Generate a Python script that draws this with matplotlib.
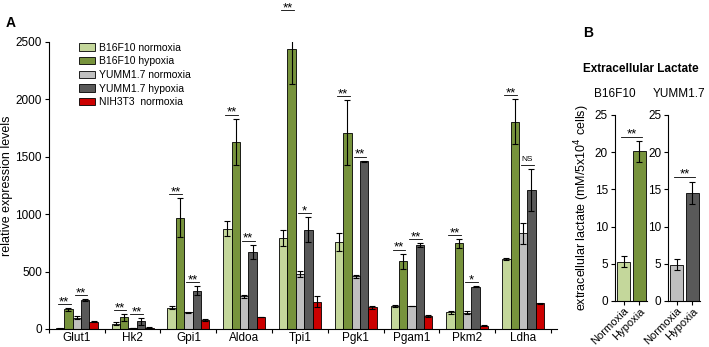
import numpy as np
import matplotlib.pyplot as plt

genes = ["Glut1", "Hk2", "Gpi1", "Aldoa", "Tpi1", "Pgk1", "Pgam1", "Pkm2", "Ldha"]
series = ["B16F10 normoxia", "B16F10 hypoxia", "YUMM1.7 normoxia", "YUMM1.7 hypoxia", "NIH3T3  normoxia"]
colors = ["#c4d79b", "#77933c", "#bfbfbf", "#595959", "#cc0000"]

b16_norm = [5, 45, 185, 875, 790, 760, 200, 145, 610]
b16_norm_err = [3, 12, 15, 62, 70, 78, 8, 15, 8]
b16_hyp = [170, 100, 970, 1630, 2435, 1710, 590, 745, 1805]
b16_hyp_err = [10, 30, 170, 203, 305, 284, 67, 40, 195]
yumm_norm = [98, 8, 145, 285, 476, 459, 200, 142, 834]
yumm_norm_err = [12, 3, 4, 15, 25, 15, 3, 15, 92]
yumm_hyp = [250, 65, 334, 670, 865, 1460, 730, 369, 1210]
yumm_hyp_err = [10, 30, 40, 64, 108, 5, 20, 5, 180]
nih = [62, 12, 75, 105, 238, 189, 113, 29, 224]
nih_err = [3, 3, 8, 3, 50, 15, 10, 3, 3]

sig_b16 = ["**"] * 9
sig_yumm = ["**", "**", "**", "**", "*", "**", "**", "*", "NS"]

# panel B
lac_labels = ["Normoxia", "Hypoxia"]
lac_b16 = [5.3, 20.1]
lac_b16_err = [0.7, 1.4]
lac_yumm = [4.9, 14.5]
lac_yumm_err = [0.8, 1.5]

plt.rcParams['font.family'] = ['Liberation Sans', 'DejaVu Sans']

fig = plt.figure(figsize=(7.09, 3.47), dpi=100)


def star(a, xc, y, txt):
    # asterisks sit just above the line, "NS" a little higher and smaller
    if txt == "NS":
        a.annotate(txt, (xc, y), xytext=(0, 1.5), textcoords="offset points",
                   ha="center", va="bottom", fontsize=6, annotation_clip=False)
    else:
        a.annotate(txt, (xc, y), xytext=(0, -0.8), textcoords="offset points",
                   ha="center", va="baseline", fontsize=9.5, annotation_clip=False)


# ---- panel A ----
ax = fig.add_axes([0.069, 0.052, 0.716, 0.827])
x = np.arange(len(genes))
w = 0.15
vals = [b16_norm, b16_hyp, yumm_norm, yumm_hyp, nih]
errs = [b16_norm_err, b16_hyp_err, yumm_norm_err, yumm_hyp_err, nih_err]
for i in range(5):
    ax.bar(x + (i - 2) * w, vals[i], w, color=colors[i], edgecolor="black",
           linewidth=0.6, label=series[i], zorder=2)
    ax.errorbar(x + (i - 2) * w, vals[i], yerr=errs[i], fmt="none", ecolor="black",
                elinewidth=0.8, capsize=2.2, capthick=0.8, zorder=3)

for g in range(len(genes)):
    t1 = max(b16_norm[g] + b16_norm_err[g], b16_hyp[g] + b16_hyp_err[g]) + 35
    ax.plot([g - 2 * w - 0.04, g - w + 0.04], [t1, t1], color="black", lw=0.6, clip_on=False)
    star(ax, g - 1.5 * w, t1, sig_b16[g])
    t2 = max(yumm_norm[g] + yumm_norm_err[g], yumm_hyp[g] + yumm_hyp_err[g]) + 35
    ax.plot([g - 0.04, g + w + 0.04], [t2, t2], color="black", lw=0.6, clip_on=False)
    star(ax, g + 0.5 * w, t2, sig_yumm[g])

ax.set_xlim(-0.5, 8.6)
ax.set_ylim(0, 2500)
ax.set_yticks([0, 500, 1000, 1500, 2000, 2500])
ax.set_xticks(x)
ax.set_xticklabels(genes, fontsize=8.5)
ax.tick_params(axis="x", which="major", length=0, pad=2)
ax.set_xticks(np.arange(-0.5, 9, 1), minor=True)
ax.tick_params(axis="x", which="minor", length=3, width=0.8)
ax.tick_params(axis="y", labelsize=8.5, length=3, width=0.8, pad=2)
for s in ["top", "right"]:
    ax.spines[s].set_visible(False)
for s in ["left", "bottom"]:
    ax.spines[s].set_linewidth(0.8)
ax.set_ylabel("relative expression levels", fontsize=9, labelpad=2)
ax.legend(loc="upper left", bbox_to_anchor=(0.04, 1.03), frameon=False,
          fontsize=7.5, handlelength=1.6, handleheight=0.7, labelspacing=0.35,
          handletextpad=0.4)
fig.text(0.008, 0.935, "A", fontsize=10, fontweight="bold", va="center")

# ---- panel B ----
fig.text(0.822, 0.905, "B", fontsize=10, fontweight="bold", va="center")
fig.text(0.822, 0.8, "Extracellular Lactate", fontsize=8.5, fontweight="bold", va="center")


def lac_panel(left, vals, errs, cols, title, tx, ylabel=False, sigy=None):
    a = fig.add_axes([left, 0.1326, 0.0455, 0.536])
    xb = np.arange(2)
    a.bar(xb, vals, 0.8, color=cols, edgecolor="black", linewidth=0.6, zorder=2)
    a.errorbar(xb, vals, yerr=errs, fmt="none", ecolor="black", elinewidth=0.8,
               capsize=2.2, capthick=0.8, zorder=3)
    a.plot([0 - 0.15, 1 + 0.15], [sigy, sigy], color="black", lw=0.6)
    star(a, 0.5, sigy, "**")
    a.set_xlim(-0.55, 1.5)
    a.set_ylim(0, 25)
    a.set_yticks([0, 5, 10, 15, 20, 25])
    a.set_xticks(xb)
    a.set_xticklabels(lac_labels, rotation=45, ha="right", rotation_mode="anchor",
                      fontsize=8)
    a.tick_params(axis="x", length=3, width=0.8, pad=0.5)
    a.tick_params(axis="y", labelsize=8.5, length=3, width=0.8, pad=2)
    for s in ["top", "right"]:
        a.spines[s].set_visible(False)
    for s in ["left", "bottom"]:
        a.spines[s].set_linewidth(0.8)
    if ylabel:
        a.set_ylabel("extracellular lactate (mM/5x10$^4$ cells)", fontsize=9, labelpad=2)
    a.text(tx, 1.08, title, transform=a.transAxes, ha="center", va="bottom",
           fontsize=8.5)
    return a


lac_panel(0.8674, lac_b16, lac_b16_err, [colors[0], colors[1]], "B16F10", 0.0,
          ylabel=True, sigy=22.1)
lac_panel(0.9422, lac_yumm, lac_yumm_err, [colors[2], colors[3]], "YUMM1.7", 0.35,
          sigy=16.7)

fig.savefig("out.png", dpi=100)
